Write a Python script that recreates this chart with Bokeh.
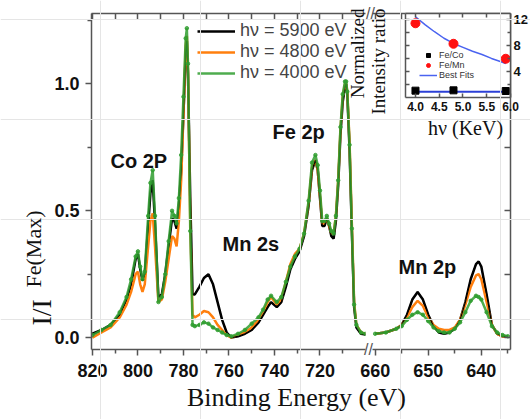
from math import pi
from bokeh.plotting import figure
from bokeh.models import (FixedTicker, LinearAxis, Label, Legend, LegendItem,
                          PrintfTickFormatter)
from bokeh.layouts import row
from bokeh.embed import file_html
from bokeh.resources import INLINE

# ---------------- data: main spectra ----------------
E_left = [820, 816, 812, 808, 805, 803, 801, 800, 799, 798,
          797, 795.5, 794.5, 793.5, 792.5, 791, 789.5, 788, 786.5, 785,
          784, 783, 782, 781, 780, 779, 778.5, 778, 777, 776,
          775, 773, 771, 769, 767, 765, 763, 761, 759, 756,
          753, 750, 747, 745, 743, 741.5, 739, 737, 735, 733,
          731, 729, 727, 725, 723.5, 722, 721, 720, 719, 718,
          717, 716, 715, 714, 713, 712, 711, 710, 709, 708.5,
          708, 707, 706, 705, 704, 702, 700]
black_left = [0.015, 0.03, 0.05, 0.09, 0.15, 0.21, 0.31, 0.33, 0.27, 0.225,
              0.25, 0.44, 0.57, 0.62, 0.45, 0.16, 0.17, 0.25, 0.36, 0.47,
              0.46, 0.43, 0.52, 0.66, 0.88, 1.12, 1.17, 1.04, 0.55, 0.17,
              0.17, 0.20, 0.235, 0.25, 0.21, 0.14, 0.07, 0.02, 0.0, 0.005,
              0.015, 0.03, 0.06, 0.09, 0.12, 0.14, 0.12, 0.14, 0.20, 0.27,
              0.31, 0.34, 0.40, 0.52, 0.66, 0.70, 0.66, 0.55, 0.44, 0.44,
              0.47, 0.44, 0.40, 0.39, 0.46, 0.60, 0.80, 0.93, 0.99, 1.0,
              0.96, 0.74, 0.42, 0.12, 0.04, 0.015, 0.012]
orange_left = [0.0, 0.02, 0.04, 0.08, 0.13, 0.18, 0.25, 0.26, 0.21, 0.18,
               0.21, 0.36, 0.46, 0.49, 0.36, 0.14, 0.15, 0.22, 0.31, 0.40,
               0.39, 0.36, 0.46, 0.62, 0.88, 1.15, 1.19, 1.05, 0.45, 0.09,
               0.08, 0.09, 0.105, 0.10, 0.08, 0.05, 0.03, 0.01, 0.0, 0.01,
               0.02, 0.04, 0.07, 0.10, 0.14, 0.16, 0.13, 0.15, 0.22, 0.29,
               0.33, 0.35, 0.41, 0.53, 0.67, 0.70, 0.66, 0.56, 0.45, 0.45,
               0.47, 0.44, 0.41, 0.41, 0.48, 0.62, 0.82, 0.95, 1.0, 1.0,
               0.97, 0.77, 0.45, 0.14, 0.05, 0.02, 0.015]
green_left = [0.01, 0.03, 0.05, 0.10, 0.16, 0.23, 0.32, 0.34, 0.28, 0.23,
              0.26, 0.48, 0.61, 0.66, 0.48, 0.14, 0.16, 0.25, 0.38, 0.50,
              0.48, 0.45, 0.55, 0.72, 0.95, 1.18, 1.22, 1.08, 0.42, 0.05,
              0.045, 0.05, 0.06, 0.055, 0.04, 0.03, 0.02, 0.01, 0.005, 0.015,
              0.03, 0.055, 0.08, 0.11, 0.15, 0.165, 0.14, 0.16, 0.22, 0.28,
              0.32, 0.35, 0.41, 0.54, 0.69, 0.72, 0.68, 0.58, 0.46, 0.46,
              0.48, 0.45, 0.42, 0.41, 0.48, 0.62, 0.83, 0.96, 1.01, 1.01,
              0.97, 0.76, 0.43, 0.13, 0.05, 0.02, 0.015]

E_right = [660, 658, 656, 655, 654, 653, 652, 651, 650, 649,
           648, 647, 646, 645, 644, 643, 642, 641, 640.5, 640,
           639, 638, 637, 636, 635]
black_right = [0.015, 0.02, 0.035, 0.05, 0.09, 0.15, 0.18, 0.15, 0.09, 0.045,
               0.02, 0.015, 0.02, 0.035, 0.07, 0.14, 0.23, 0.29, 0.30, 0.28,
               0.17, 0.05, 0.015, 0.005, 0.003]
orange_right = [0.015, 0.02, 0.035, 0.05, 0.08, 0.12, 0.145, 0.125, 0.08, 0.05,
                0.035, 0.03, 0.03, 0.04, 0.07, 0.13, 0.20, 0.245, 0.25, 0.23,
                0.14, 0.05, 0.015, 0.005, 0.003]
green_right = [0.015, 0.02, 0.035, 0.045, 0.07, 0.09, 0.10, 0.09, 0.065, 0.04,
               0.025, 0.02, 0.02, 0.035, 0.06, 0.10, 0.145, 0.165, 0.16, 0.15,
               0.10, 0.045, 0.02, 0.01, 0.005]

series_labels = ["h\u03bd = 5900 eV", "h\u03bd = 4800 eV", "h\u03bd = 4000 eV"]

x_ticks_left = [820, 800, 780, 760, 740, 720]
x_minor_left = [810, 790, 770, 750, 730, 710]
x_ticks_right = [660, 650, 640]
x_minor_right = [655, 645, 635]
y_ticks = [0.0, 0.5, 1.0]
y_minor = [0.25, 0.75, 1.25]

# ---------------- data: inset ----------------
hv_kev = [4.0, 4.8, 5.9]
fe_co = [1.05, 1.1, 1.0]
fe_mn = [11.4, 8.25, 5.95]
fit_mn_x = [4.0, 4.2, 4.4, 4.6, 4.8, 5.0, 5.2, 5.4, 5.6, 5.8, 5.9]
fit_mn_y = [12.4, 11.2, 10.1, 9.1, 8.3, 7.7, 7.1, 6.6, 6.0, 5.5, 5.2]
fit_co_x = [4.0, 5.9]
fit_co_y = [0.9, 0.9]
inset_x_ticks = [4.0, 4.5, 5.0, 5.5, 6.0]
inset_y_ticks = [4, 8, 12]
inset_y_minor = [2, 6, 10]
inset_labels = ["Fe/Co", "Fe/Mn", "Best Fits"]

AX = "#555555"
SANS = "Liberation Sans"
SERIF = "Liberation Serif"
TXT = "#111111"
BLACK = "#000000"
ORANGE = "#ff7f0e"
GREEN = "#2f9e2f"
W, H = 530, 419
TOP, BOT = 13, 70          # shared top / bottom borders of the plot row


def style_axis(ax, ticks, minor, labels, inward, size="18px", tick=6, mtick=4,
               fmt=None, standoff=8):
    ax.axis_line_color = AX
    ax.axis_line_width = 1.5
    ax.major_tick_line_color = AX
    ax.minor_tick_line_color = AX
    ax.major_tick_line_width = 1.5
    ax.minor_tick_line_width = 1.5
    if labels:
        ax.ticker = FixedTicker(ticks=ticks, minor_ticks=minor)
        ax.major_label_text_font = SANS
        ax.major_label_text_font_style = "bold"
        ax.major_label_text_font_size = size
        ax.major_label_text_color = TXT
        ax.major_label_standoff = standoff
        if fmt:
            ax.formatter = PrintfTickFormatter(format=fmt)
    else:
        # tick marks only: every position as a minor tick, so no labels at all
        ax.ticker = FixedTicker(ticks=[], minor_ticks=list(ticks) + list(minor))
    if inward:
        ax.major_tick_in, ax.major_tick_out = tick, 0
        ax.minor_tick_in, ax.minor_tick_out = (mtick if labels else tick), 0
    else:
        ax.major_tick_in, ax.major_tick_out = 0, tick
        ax.minor_tick_in, ax.minor_tick_out = 0, (mtick if labels else tick)


def clean(p, bg=None):
    p.outline_line_color = None
    p.xgrid.visible = False
    p.ygrid.visible = False
    p.border_fill_color = None
    p.background_fill_color = bg


# ---------------- left segment (820-700 eV) ----------------
WL = 380
pL = figure(width=WL, height=H, x_range=(820.4, 700.0), y_range=(-0.047, 1.278),
            output_backend="svg", toolbar_location=None,
            min_border_left=91, min_border_right=WL - 365, min_border_top=TOP,
            min_border_bottom=BOT, x_axis_location=None, y_axis_location=None)
clean(pL)
pL.border_fill_color = "white"

axb = LinearAxis()
style_axis(axb, x_ticks_left, x_minor_left, True, False)
pL.add_layout(axb, "below")
axt = LinearAxis()
style_axis(axt, x_ticks_left, x_minor_left, False, True)
pL.add_layout(axt, "above")
axl = LinearAxis()
style_axis(axl, y_ticks, y_minor, True, False, fmt="%.1f", standoff=6)
pL.add_layout(axl, "left")

rbL = pL.line(E_left, black_left, line_color=BLACK, line_width=2.5)
roL = pL.line(E_left, orange_left, line_color=ORANGE, line_width=2.5)
pL.line(E_left, black_left, line_color=BLACK, line_width=1.2)
rgL = pL.line(E_left, green_left, line_color=GREEN, line_width=2.5, line_alpha=0.85)
pL.scatter(E_left, green_left, size=3.5, color=GREEN, alpha=0.8)

leg = Legend(items=[LegendItem(label=series_labels[0], renderers=[rbL]),
                    LegendItem(label=series_labels[1], renderers=[roL]),
                    LegendItem(label=series_labels[2], renderers=[rgL])],
             location=(106, 266), orientation="vertical",
             background_fill_alpha=0, border_line_color=None,
             label_text_font=SANS, label_text_font_size="18px",
             glyph_width=38, glyph_height=20, label_height=20,
             label_standoff=5, spacing=0, padding=0, margin=0)
pL.add_layout(leg)

# ---------------- right segment (660-635 eV) ----------------
R0 = 358
WR = W - R0
pR = figure(width=WR, height=H, x_range=(660.5, 634.5), y_range=(-0.047, 1.278),
            output_backend="svg", toolbar_location=None,
            min_border_left=372 - R0, min_border_right=W - 510, min_border_top=TOP,
            min_border_bottom=BOT, x_axis_location=None, y_axis_location=None)
clean(pR)
pR.margin = (0, 0, 0, R0 - WL)

axb2 = LinearAxis()
style_axis(axb2, x_ticks_right, x_minor_right, True, False)
pR.add_layout(axb2, "below")
axt2 = LinearAxis()
style_axis(axt2, x_ticks_right, x_minor_right, False, True)
pR.add_layout(axt2, "above")
axr2 = LinearAxis()
style_axis(axr2, y_ticks, y_minor, False, True)
pR.add_layout(axr2, "right")

pR.line(E_right, black_right, line_color=BLACK, line_width=2.5)
pR.line(E_right, orange_right, line_color=ORANGE, line_width=2.5)
pR.line(E_right, black_right, line_color=BLACK, line_width=1.2)
pR.line(E_right, green_right, line_color=GREEN, line_width=2.5, line_alpha=0.85)
pR.scatter(E_right, green_right, size=3.5, color=GREEN, alpha=0.8)

# ---------------- inset ----------------
I0 = 335
WI = W - I0
pI = figure(width=WI, height=TOP + 84 + BOT, x_range=(3.79, 6.0), y_range=(0, 12.9),
            output_backend="svg", toolbar_location=None,
            min_border_left=405 - I0, min_border_right=W - 510, min_border_top=TOP,
            min_border_bottom=BOT, x_axis_location=None, y_axis_location=None)
clean(pI, bg="white")
pI.margin = (0, 0, 0, I0 - W)

ib = LinearAxis()
style_axis(ib, inset_x_ticks, [], True, True, size="12px", tick=4, mtick=2,
           fmt="%.1f", standoff=4)
pI.add_layout(ib, "below")
it = LinearAxis()
style_axis(it, inset_x_ticks, [], False, True, tick=4)
pI.add_layout(it, "above")
ir = LinearAxis()
style_axis(ir, inset_y_ticks, inset_y_minor, True, True, size="13px", tick=4, mtick=3,
           fmt="%d", standoff=3)
pI.add_layout(ir, "right")
il = LinearAxis()
style_axis(il, inset_y_ticks, inset_y_minor, False, True, tick=4)
pI.add_layout(il, "left")

rfit = pI.line(fit_mn_x, fit_mn_y, line_color="#4a63f0", line_width=1.5)
pI.line(fit_co_x, fit_co_y, line_color="#2b3fd6", line_width=2)
rco = pI.scatter(hv_kev, fe_co, marker="square", size=7, color="black")
rmn = pI.scatter(hv_kev, fe_mn, marker="circle", size=9, color="#ff1010")

ileg = Legend(items=[LegendItem(label=inset_labels[0], renderers=[rco]),
                     LegendItem(label=inset_labels[1], renderers=[rmn]),
                     LegendItem(label=inset_labels[2], renderers=[rfit])],
              location=(14, 17), background_fill_alpha=0, border_line_color=None,
              label_text_font=SANS, label_text_font_size="9px", label_text_color="#333333",
              glyph_width=18, glyph_height=10, label_height=10, label_standoff=2,
              spacing=0, padding=0, margin=0)
pI.add_layout(ileg)

# ---------------- free text layer (separate root, laid over the plots) ----------------
pO = figure(width=W, height=H, x_range=(0, W), y_range=(0, H),
            output_backend="svg", toolbar_location=None, min_border=0,
            x_axis_location=None, y_axis_location=None, title_location=None)
pO.outline_line_color = None
pO.border_fill_color = None
pO.background_fill_color = None
pO.margin = (-H, 0, 0, 0)


def txt(x, y, text, **kw):
    opts = dict(x_units="screen", y_units="screen", text_color=TXT)
    opts.update(kw)
    pO.add_layout(Label(x=x, y=H - y, text=text, **opts))


peak = dict(text_font=SANS, text_font_style="bold", text_font_size="20px")
txt(110, 171, "Co 2P", **peak)
txt(222, 254, "Mn 2s", **peak)
txt(272, 142, "Fe 2p", **peak)
txt(398, 277, "Mn 2p", **peak)
txt(296, 411, "Binding Energy (eV)", text_font=SERIF, text_font_size="26px",
    text_align="center")
txt(56, 325, "I/I", angle=pi / 2, text_font=SERIF, text_font_size="28px")
txt(45, 287, "Fe(Max)", angle=pi / 2, text_font=SERIF, text_font_size="22px")
brk = dict(text_font=SANS, text_font_size="16px", text_align="center",
           text_baseline="middle", text_color=AX)
txt(368, 349, "//", **brk)
txt(370, 13, "//", **brk)
rot = dict(angle=pi / 2, text_font=SERIF, text_font_size="19px", text_align="right")
txt(367, 8, "Normalized", **rot)
txt(388, 8, "Intensity ratio", **rot)
txt(465, 138, "h\u03bd (KeV)", text_font=SERIF, text_font_size="20px", text_align="center")

layout = row(pL, pR, pI)
open("out.html", "w").write(file_html([layout, pO], INLINE))
